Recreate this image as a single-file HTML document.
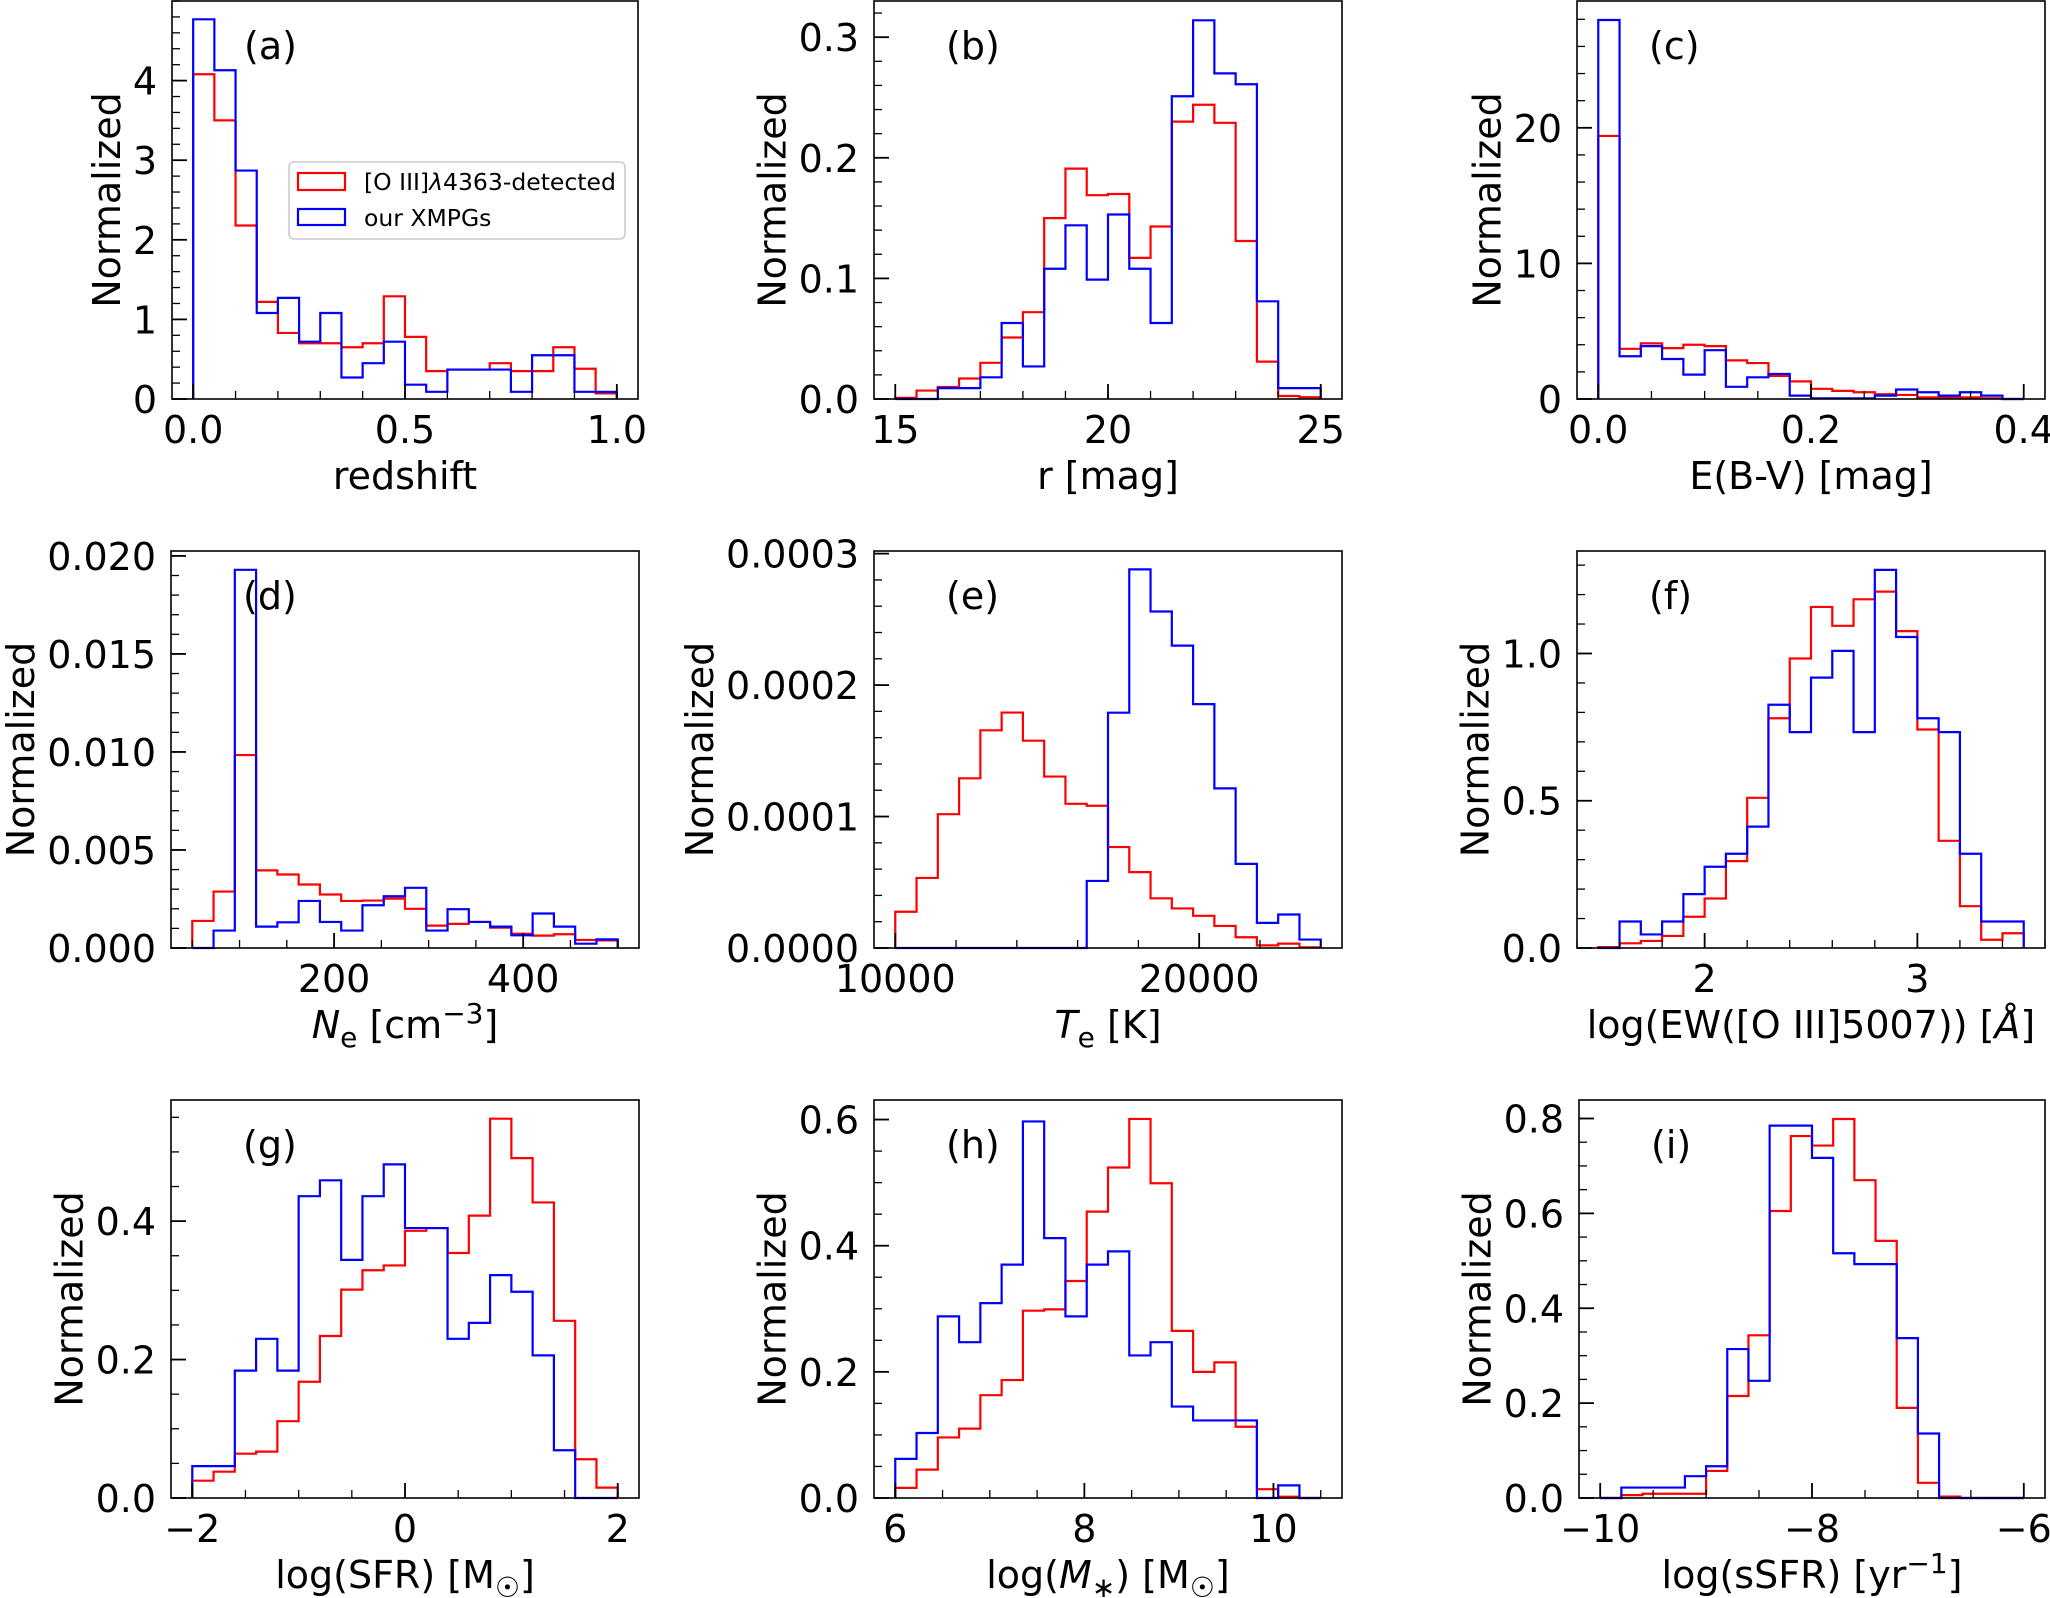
<!DOCTYPE html>
<html><head><meta charset="utf-8"><style>
html,body{margin:0;padding:0;background:#fff;}
svg{display:block;font-family:"DejaVu Sans","Liberation Sans",sans-serif;}
</style></head><body>
<svg id="fig" width="2050" height="1598" viewBox="0 0 2050 1598" xmlns="http://www.w3.org/2000/svg"></svg>
<script>
// ---------- data ----------
const aRed  = [4.08,3.5,2.18,1.22,0.83,0.7,0.7,0.65,0.7,1.29,0.78,0.35,0.37,0.37,0.45,0.35,0.35,0.65,0.38,0.07];
const aBlue = [4.77,4.13,2.87,1.08,1.27,0.72,1.08,0.27,0.45,0.72,0.18,0.09,0.37,0.37,0.37,0.09,0.55,0.55,0.09,0.09];
const bRed  = [0.001,0.007,0.010,0.017,0.030,0.051,0.072,0.150,0.191,0.169,0.170,0.117,0.143,0.230,0.244,0.229,0.131,0.031,0.0025,0.0015];
const bBlue = [0,0,0.009,0.009,0.018,0.063,0.027,0.108,0.144,0.099,0.153,0.108,0.063,0.251,0.314,0.270,0.261,0.081,0.009,0.009];
const cRed  = [19.4,3.7,4.1,3.75,4.0,3.9,2.85,2.65,1.7,1.3,0.75,0.6,0.5,0.35,0.3,0.12,0.12,0.12,0.05,0];
const cBlue = [27.95,3.15,3.9,2.95,1.8,3.6,0.9,1.6,1.85,0.25,0.05,0.05,0.05,0.25,0.7,0.5,0.25,0.5,0.25,0];
const dRed  = [0.00138,0.00288,0.00984,0.00396,0.00375,0.00324,0.00273,0.0024,0.00242,0.00252,0.002,0.00114,0.00123,0.00133,0.00104,0.00073,0.00063,0.0007,0.00041,0.00039];
const dBlue = [0,0.00089,0.01929,0.00109,0.00131,0.0024,0.00133,0.00089,0.00218,0.00264,0.00307,0.00089,0.00198,0.00133,0.00109,0.00065,0.00176,0.00109,0.00022,0.00044];
const eRed  = [0.276,0.533,1.018,1.291,1.656,1.791,1.577,1.304,1.097,1.082,0.768,0.577,0.378,0.301,0.245,0.168,0.082,0.020,0.033,0.005].map(v=>v*1e-4);
const eBlue = [0,0,0,0,0,0,0,0,0,0.51,1.79,2.88,2.56,2.30,1.855,1.214,0.640,0.191,0.255,0.064].map(v=>v*1e-4);
const fRed  = [0.003,0.016,0.024,0.041,0.106,0.168,0.295,0.510,0.780,0.983,1.158,1.094,1.184,1.210,1.076,0.742,0.364,0.142,0.028,0.050];
const fBlue = [0,0.090,0.046,0.090,0.183,0.276,0.320,0.412,0.826,0.733,0.918,1.009,0.733,1.284,1.056,0.780,0.733,0.320,0.090,0.090];
const gRed  = [0.025,0.038,0.064,0.067,0.111,0.168,0.234,0.301,0.329,0.336,0.386,0.390,0.354,0.408,0.548,0.491,0.427,0.256,0.056,0.015];
const gBlue = [0.046,0.046,0.184,0.230,0.184,0.436,0.459,0.344,0.436,0.482,0.390,0.390,0.230,0.253,0.322,0.298,0.206,0.069,0,0];
const hRed  = [0.016,0.045,0.096,0.110,0.163,0.187,0.297,0.299,0.344,0.454,0.524,0.601,0.499,0.265,0.200,0.215,0.113,0.014,0.002,0];
const hBlue = [0.062,0.103,0.288,0.247,0.309,0.370,0.597,0.412,0.288,0.370,0.391,0.226,0.247,0.145,0.123,0.123,0.123,0,0.020,0];
const iRed  = [0,0.006,0.009,0.009,0.009,0.057,0.215,0.343,0.605,0.763,0.743,0.799,0.670,0.542,0.190,0.032,0.003,0,0,0];
const iBlue = [0,0.022,0.022,0.022,0.046,0.067,0.314,0.247,0.785,0.785,0.717,0.516,0.493,0.493,0.337,0.136,0,0,0,0];

const aXTicks=[0,0.5,1.0]; const aXLabels=['0.0','0.5','1.0'];
const aYTicks=[0,1,2,3,4]; const aYLabels=['0','1','2','3','4'];
const bXTicks=[15,20,25]; const bXLabels=['15','20','25'];
const bYTicks=[0,0.1,0.2,0.3]; const bYLabels=['0.0','0.1','0.2','0.3'];
const cXTicks=[0,0.2,0.4]; const cXLabels=['0.0','0.2','0.4'];
const cYTicks=[0,10,20]; const cYLabels=['0','10','20'];
const dXTicks=[200,400]; const dXLabels=['200','400'];
const dYTicks=[0,0.005,0.010,0.015,0.020]; const dYLabels=['0.000','0.005','0.010','0.015','0.020'];
const eXTicks=[10000,20000]; const eXLabels=['10000','20000'];
const eYTicks=[0,0.0001,0.0002,0.0003]; const eYLabels=['0.0000','0.0001','0.0002','0.0003'];
const fXTicks=[2,3]; const fXLabels=['2','3'];
const fYTicks=[0,0.5,1.0]; const fYLabels=['0.0','0.5','1.0'];
const gXTicks=[-2,0,2]; const gXLabels=['\u22122','0','2'];
const gYTicks=[0,0.2,0.4]; const gYLabels=['0.0','0.2','0.4'];
const hXTicks=[6,8,10]; const hXLabels=['6','8','10'];
const hYTicks=[0,0.2,0.4,0.6]; const hYLabels=['0.0','0.2','0.4','0.6'];
const iXTicks=[-10,-8,-6]; const iXLabels=['\u221210','\u22128','\u22126'];
const iYTicks=[0,0.2,0.4,0.6,0.8]; const iYLabels=['0.0','0.2','0.4','0.6','0.8'];

const SUB='<tspan dy="9" font-size="28">', SUP='<tspan dy="-15" font-size="28">';
const panels=[
 {id:'a',box:[172,1,638,399],xlim:[-0.05,1.05],ylim:[0,5.0],bin0:0,bw:0.05,red:aRed,blue:aBlue,xt:aXTicks,xl:aXLabels,xm:0.1,yt:aYTicks,yl:aYLabels,ym:0.2,label:'redshift'},
 {id:'b',box:[874,1,1342,399],xlim:[14.5,25.5],ylim:[0,0.33],bin0:15,bw:0.5,red:bRed,blue:bBlue,xt:bXTicks,xl:bXLabels,xm:1,yt:bYTicks,yl:bYLabels,ym:0.02,label:'r [mag]'},
 {id:'c',box:[1577,1,2045,399],xlim:[-0.02,0.42],ylim:[0,29.35],bin0:0,bw:0.02,red:cRed,blue:cBlue,xt:cXTicks,xl:cXLabels,xm:0.05,yt:cYTicks,yl:cYLabels,ym:2,label:'E(B-V) [mag]'},
 {id:'d',box:[171,551,639,948],xlim:[27.5,522.5],ylim:[0,0.02025],bin0:50,bw:22.5,red:dRed,blue:dBlue,xt:dXTicks,xl:dXLabels,xm:50,yt:dYTicks,yl:dYLabels,ym:0.001,label:'<tspan font-style="italic">N</tspan>'+SUB+'e</tspan><tspan dy="-9"> [cm</tspan>'+SUP+'\u22123</tspan><tspan dy="15">]</tspan>'},
 {id:'e',box:[874,551,1342,948],xlim:[9300,24700],ylim:[0,0.000302],bin0:10000,bw:700,red:eRed,blue:eBlue,xt:eXTicks,xl:eXLabels,xm:2000,yt:eYTicks,yl:eYLabels,ym:0.00002,label:'<tspan font-style="italic">T</tspan>'+SUB+'e</tspan><tspan dy="-9"> [K]</tspan>'},
 {id:'f',box:[1577,551,2045,948],xlim:[1.4,3.6],ylim:[0,1.348],bin0:1.5,bw:0.1,red:fRed,blue:fBlue,xt:fXTicks,xl:fXLabels,xm:0.2,yt:fYTicks,yl:fYLabels,ym:0.1,label:'log(EW([O III]5007)) [<tspan font-style="italic">\u00c5</tspan>]'},
 {id:'g',box:[171,1100,639,1498],xlim:[-2.2,2.2],ylim:[0,0.575],bin0:-2,bw:0.2,red:gRed,blue:gBlue,xt:gXTicks,xl:gXLabels,xm:0.5,yt:gYTicks,yl:gYLabels,ym:0.05,label:'log(SFR) [M'+SUB+'\u2609</tspan><tspan dy="-9">]</tspan>'},
 {id:'h',box:[874,1100,1342,1498],xlim:[5.775,10.725],ylim:[0,0.631],bin0:6,bw:0.225,red:hRed,blue:hBlue,xt:hXTicks,xl:hXLabels,xm:0.5,yt:hYTicks,yl:hYLabels,ym:0.05,label:'log(<tspan font-style="italic">M</tspan>'+SUB+'\u2217</tspan><tspan dy="-9">) [M</tspan>'+SUB+'\u2609</tspan><tspan dy="-9">]</tspan>'},
 {id:'i',box:[1579,1100,2045,1498],xlim:[-10.2,-5.8],ylim:[0,0.839],bin0:-10,bw:0.2,red:iRed,blue:iBlue,xt:iXTicks,xl:iXLabels,xm:0.5,yt:iYTicks,yl:iYLabels,ym:0.05,label:'log(sSFR) [yr'+SUP+'\u22121</tspan><tspan dy="15">]</tspan>'}
];

const NS='http://www.w3.org/2000/svg';
const svg=document.getElementById('fig');
function el(tag,attrs,parent){const e=document.createElementNS(NS,tag);for(const k in attrs)e.setAttribute(k,attrs[k]);(parent||svg).appendChild(e);return e;}
const FS=38;

panels.forEach(p=>{
  const [L,T,R,B]=p.box;
  const g=el('g',{});
  
  
  const sx=v=>L+(v-p.xlim[0])/(p.xlim[1]-p.xlim[0])*(R-L);
  const sy=v=>B-(v-p.ylim[0])/(p.ylim[1]-p.ylim[0])*(B-T);
  [['red',p.red,'#ff0000'],['blue',p.blue,'#0000ff']].forEach(([nm,vals,col])=>{
    let d='M'+sx(p.bin0)+','+sy(0);
    vals.forEach((v,k)=>{const x0=sx(p.bin0+k*p.bw),x1=sx(p.bin0+(k+1)*p.bw);d+=' L'+x0+','+sy(v)+' L'+x1+','+sy(v);});
    d+=' L'+sx(p.bin0+vals.length*p.bw)+','+sy(0);
    const path=el('path',{d:d,fill:'none',stroke:col,'stroke-width':2.2,'stroke-linejoin':'miter'},g);
    
    
  });
  const eps=1e-9;
  for(let v=Math.ceil((p.xlim[0])/p.xm)*p.xm; v<=p.xlim[1]+eps; v+=p.xm){
    el('line',{x1:sx(v),x2:sx(v),y1:B,y2:B-8,stroke:'#000','stroke-width':1.3},g);
  }
  for(let v=0; v<=p.ylim[1]+eps; v+=p.ym){
    el('line',{x1:L,x2:L+8,y1:sy(v),y2:sy(v),stroke:'#000','stroke-width':1.3},g);
  }
  p.xt.forEach((v,k)=>{
    el('line',{x1:sx(v),x2:sx(v),y1:B,y2:B-15,stroke:'#000','stroke-width':1.8},g);
    const t=el('text',{x:sx(v),y:B+44,'font-size':FS,'text-anchor':'middle',fill:'#000'},g);
    t.textContent=p.xl[k];
    
    
  });
  let maxW=0;
  p.yt.forEach((v,k)=>{
    el('line',{x1:L,x2:L+15,y1:sy(v),y2:sy(v),stroke:'#000','stroke-width':1.8},g);
    const t=el('text',{x:L-15,y:sy(v)+14,'font-size':FS,'text-anchor':'end',fill:'#000'},g);
    t.textContent=p.yl[k];
    
    
    try{maxW=Math.max(maxW,t.getComputedTextLength());}catch(e){maxW=Math.max(maxW,p.yl[k].length*22);}
  });
  const fr=el('rect',{x:L,y:T,width:R-L,height:B-T,fill:'none',stroke:'#000','stroke-width':1.6},g);
  
  
  const xl=el('text',{x:(L+R)/2,y:B+90,'font-size':FS,'text-anchor':'middle',fill:'#000'},g);
  xl.innerHTML=p.label;
  
  
  const yx=L-15-maxW-13, yc=(T+B)/2;
  const yl=el('text',{x:yx,y:yc,'font-size':FS,'text-anchor':'middle',fill:'#000',transform:'rotate(-90 '+yx+' '+yc+')'},g);
  yl.textContent='Normalized';
  
  
  const tag=el('text',{x:L+72,y:T+58,'font-size':FS,fill:'#000'},g);
  tag.textContent='('+p.id+')';
  
  
});

const lg=el('g',{});


el('rect',{x:289,y:162,width:336,height:77,rx:5,ry:5,fill:'#fff','fill-opacity':0.8,stroke:'#cccccc','stroke-width':1.6},lg);
el('rect',{x:298,y:173,width:47,height:17,fill:'none',stroke:'#ff0000','stroke-width':2.2},lg);
el('rect',{x:298,y:209,width:47,height:16,fill:'none',stroke:'#0000ff','stroke-width':2.2},lg);
const t1=el('text',{x:364,y:190,'font-size':23.5,fill:'#000'},lg);
t1.innerHTML='[O III]<tspan font-style="italic">\u03bb</tspan>4363-detected';


const t2=el('text',{x:364,y:226,'font-size':23.5,fill:'#000'},lg);
t2.textContent='our XMPGs';


</script>
</body></html>
